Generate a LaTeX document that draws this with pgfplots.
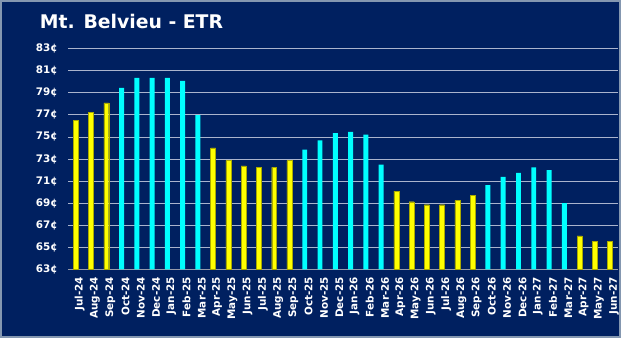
\documentclass[border=0pt]{standalone}
\usepackage{pgfplots}
\pgfplotsset{compat=1.18}
\usepackage{fontspec}
\setmainfont{DejaVu Sans}
\definecolor{navy}{RGB}{0,32,96}
\definecolor{frame}{RGB}{132,151,176}
\definecolor{gridc}{RGB}{170,180,205}
\definecolor{axisc}{RGB}{150,155,170}
\definecolor{ybar}{RGB}{255,255,0}
\definecolor{cbar}{RGB}{0,255,255}
\begin{document}
\begin{tikzpicture}
\fill[frame] (0,0) rectangle (625bp,340bp);
\fill[navy] (2bp,2bp) rectangle (623bp,338bp);
\node[anchor=west,text=white,font=\bfseries\fontsize{19}{21}\selectfont,inner sep=0pt] at (40bp,318bp) {Mt. Belvieu - ETR};
\begin{axis}[
  at={(68.5bp,69bp)}, anchor=south west,
  scale only axis, width=553bp, height=222bp,
  xmin=-0.5, xmax=35.5, ymin=63, ymax=83,
  axis x line*=bottom, axis y line*=left,
  x axis line style={draw=axisc, line width=0.8bp},
  y axis line style={draw=none},
  ytick={63,65,...,83},
  yticklabels={63¢,65¢,67¢,69¢,71¢,73¢,75¢,77¢,79¢,81¢,83¢},
  ymajorgrids, major grid style={draw=gridc, line width=0.8bp},
  ytick style={draw=none},
  yticklabel style={font=\bfseries\fontsize{10.5}{12}\selectfont, text=white, xshift=-7bp},
  xtick={0,...,35},
  xticklabels={Jul-24,Aug-24,Sep-24,Oct-24,Nov-24,Dec-24,Jan-25,Feb-25,Mar-25,Apr-25,May-25,Jun-25,Jul-25,Aug-25,Sep-25,Oct-25,Nov-25,Dec-25,Jan-26,Feb-26,Mar-26,Apr-26,May-26,Jun-26,Jul-26,Aug-26,Sep-26,Oct-26,Nov-26,Dec-26,Jan-27,Feb-27,Mar-27,Apr-27,May-27,Jun-27},
  xtick style={draw=none},
  xticklabel style={font=\bfseries\fontsize{10.5}{12}\selectfont, text=white, rotate=90, anchor=east, yshift=-4bp},
  extra x ticks={-0.5,0.5,...,35.5},
  extra x tick labels={},
  extra x tick style={grid=none, tick align=outside, major tick length=5bp, tick style={draw=axisc, line width=0.8bp}},
  ybar, bar width=5bp, bar shift=0pt,
  clip=false,
]
\addplot[fill=ybar, draw={rgb,255:red,170;green,170;blue,0}, line width=0.4bp] coordinates {
(0,76.5) (1,77.24) (2,78.1) (9,74.0) (10,72.85) (11,72.37) (12,72.25) (13,72.25) (14,72.85)
(21,70.09) (22,69.13) (23,68.86) (24,68.86) (25,69.24) (26,69.73) (33,66.04) (34,65.52) (35,65.52)};
\addplot[fill=cbar, draw=none] coordinates {
(3,79.46) (4,80.35) (5,80.35) (6,80.35) (7,80.09) (8,76.99) (15,73.86) (16,74.7) (17,75.34) (18,75.46) (19,75.22) (20,72.49)
(27,70.63) (28,71.38) (29,71.74) (30,72.25) (31,72.0) (32,69.0)};
\end{axis}
\end{tikzpicture}
\end{document}
